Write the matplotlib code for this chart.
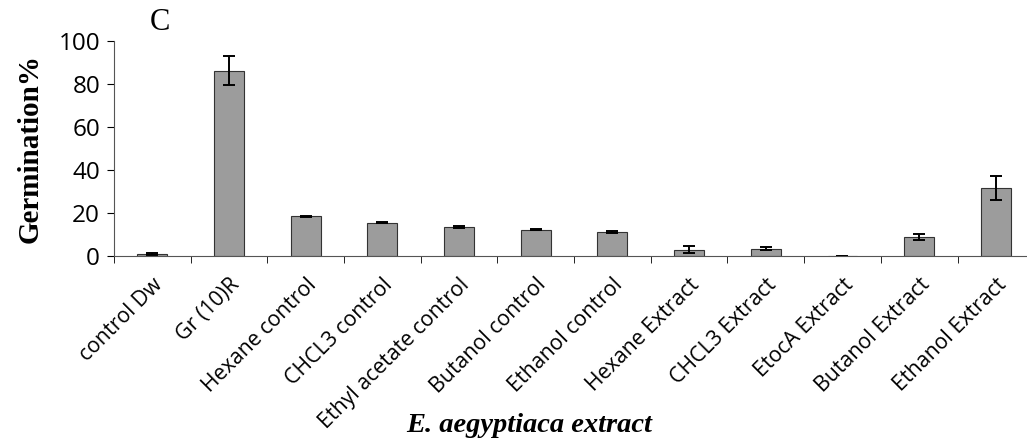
import numpy as np
import matplotlib.pyplot as plt

categories = ['control Dw', 'Gr (10)R', 'Hexane control', 'CHCL3 control',
              'Ethyl acetate control', 'Butanol control', 'Ethanol control',
              'Hexane Extract', 'CHCL3 Extract', 'EtocA Extract',
              'Butanol Extract', 'Ethanol Extract']
germination = [0.8, 86.0, 18.5, 15.5, 13.5, 12.2, 11.2, 3.0, 3.5, 0.0, 8.8, 31.5]
errors = [0.5, 6.7, 0.3, 0.3, 0.3, 0.3, 0.3, 1.5, 0.8, 0.0, 1.3, 5.5]
y_ticks = [0, 20, 40, 60, 80, 100]

fig = plt.figure(figsize=(10.27, 4.43), dpi=100)
ax = fig.add_axes([0.111, 0.422, 0.896, 0.486])

x = np.arange(len(categories))
ax.bar(x, germination, width=0.39, color='#9c9c9c', edgecolor='#333333', linewidth=0.8,
       yerr=errors, error_kw=dict(ecolor='black', elinewidth=1.4, capsize=4.5, capthick=1.4))

ax.set_xlim(-0.5, len(categories) - 0.5)
ax.set_ylim(0, 100)
ax.set_yticks(y_ticks)
ax.tick_params(axis='y', direction='out', length=5, labelsize=17.5, pad=5)
for lab in ax.get_yticklabels():
    lab.set_family('Open Sans')

# labels at bar centres, ticks at category boundaries
ax.set_xticks(x)
ax.set_xticklabels(categories, rotation=45, ha='right', rotation_mode='anchor',
                   fontsize=15.3, family='Open Sans')
ax.tick_params(axis='x', which='major', length=0, pad=13)
ax.set_xticks(np.arange(-0.5, len(categories), 1), minor=True)
ax.tick_params(axis='x', which='minor', direction='out', length=5)

ax.spines['top'].set_visible(False)
ax.spines['right'].set_visible(False)
ax.spines['left'].set_color('#555555')
ax.spines['bottom'].set_color('#555555')

ax.set_ylabel('Germination%', fontsize=21, fontweight='bold', family='Liberation Serif')
ax.yaxis.set_label_coords(-0.077, 0.5)
fig.text(0.515, 0.04, 'E. aegyptiaca extract', ha='center', va='center',
         fontsize=20.5, fontweight='bold', fontstyle='italic', family='Liberation Serif')
fig.text(0.156, 0.95, 'C', ha='center', va='center', fontsize=22,
         family='Liberation Serif')

fig.savefig('out.png', dpi=100)
